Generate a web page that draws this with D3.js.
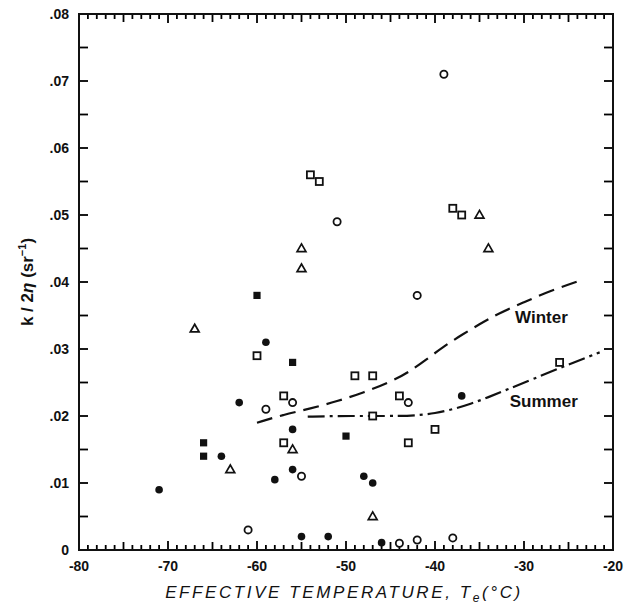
<!DOCTYPE html>
<html><head><meta charset="utf-8">
<script src="https://cdn.jsdelivr.net/npm/d3@7/dist/d3.min.js"></script>
<style>
html,body{margin:0;padding:0;background:#fff;}
svg{display:block;}
text{font-family:"Liberation Sans",Arial,Helvetica,sans-serif;fill:#111;}
</style></head>
<body>
<svg id="chart" width="624" height="608"></svg>
<script>
// ---- data ----
const xTicks = [-80,-70,-60,-50,-40,-30,-20];
const yTicks = [0,0.01,0.02,0.03,0.04,0.05,0.06,0.07,0.08];
const xTickLabels = ["-80","-70","-60","-50","-40","-30","-20"];
const yTickLabels = ["0",".01",".02",".03",".04",".05",".06",".07",".08"];

const openCircles = [[-61,0.003],[-59,0.021],[-56,0.022],[-55,0.011],[-51,0.049],[-44,0.001],[-43,0.022],[-42,0.038],[-42,0.0015],[-39,0.071],[-38,0.0018]];
const openSquares = [[-60,0.029],[-57,0.023],[-57,0.016],[-54,0.056],[-53,0.055],[-49,0.026],[-47,0.026],[-47,0.020],[-44,0.023],[-43,0.016],[-40,0.018],[-38,0.051],[-37,0.050],[-26,0.028]];
const openTriangles = [[-67,0.033],[-63,0.012],[-56,0.015],[-55,0.045],[-55,0.042],[-47,0.005],[-35,0.050],[-34,0.045]];
const filledCircles = [[-71,0.009],[-64,0.014],[-62,0.022],[-59,0.031],[-58,0.0105],[-56,0.018],[-56,0.012],[-55,0.002],[-52,0.002],[-48,0.011],[-47,0.010],[-46,0.0011],[-37,0.023]];
const filledSquares = [[-66,0.016],[-66,0.014],[-60,0.038],[-56,0.028],[-50,0.017]];

const winterCurve = [[-60,0.019],[-57,0.0202],[-54,0.0211],[-51,0.0222],[-48,0.0235],[-45,0.0251],[-43,0.0265],[-41,0.0284],[-39,0.0304],[-37,0.0321],[-35,0.0337],[-33,0.0352],[-30,0.0370],[-27,0.0387],[-23.5,0.0403]];
const summerCurve = [[-54.3,0.0199],[-51,0.0200],[-47,0.0200],[-44,0.0200],[-42,0.0201],[-40,0.0204],[-38,0.0210],[-36,0.0218],[-34,0.0228],[-32,0.0239],[-29,0.0255],[-25,0.0277],[-21.5,0.0295]];

// ---- layout ----
const svg = d3.select("#chart");
const L = 79, R = 613, T = 14, B = 550;
const x = d3.scaleLinear().domain([-80,-20]).range([L,R]);
const y = d3.scaleLinear().domain([0,0.08]).range([B,T]);

// tick marks as filled rects positioned by the scales
const minorX = d3.range(-80,-19,1);
const yMinor = d3.range(0,0.0801,0.005);
const tickLen = d => (Math.abs(d) % 10 === 0) ? 9 : (Math.abs(d) % 5 === 0 ? 8 : 5);
const tg = svg.append("g").attr("fill","#000");
tg.selectAll("rect.bt").data(minorX).join("rect").attr("class","bt")
  .attr("x",d=>x(d)-0.9).attr("y",d=>B-tickLen(d)).attr("width",1.8).attr("height",d=>tickLen(d));
tg.selectAll("rect.tt").data(minorX).join("rect").attr("class","tt")
  .attr("x",d=>x(d)-0.9).attr("y",T).attr("width",1.8).attr("height",d=>tickLen(d));
tg.selectAll("rect.lt").data(yMinor).join("rect").attr("class","lt")
  .attr("x",L).attr("y",d=>y(d)-0.9).attr("width",9).attr("height",1.8);
tg.selectAll("rect.rt").data(yMinor).join("rect").attr("class","rt")
  .attr("x",R-9).attr("y",d=>y(d)-0.9).attr("width",9).attr("height",1.8);

// frame
svg.append("rect").attr("x",L).attr("y",T).attr("width",R-L).attr("height",B-T)
  .attr("fill","none").attr("stroke","#111").attr("stroke-width",2);

// tick labels
svg.append("g").selectAll("text").data(xTicks).join("text")
  .attr("x",d=>x(d)).attr("y",B+21).attr("text-anchor","middle")
  .attr("font-size",14).attr("font-weight","bold").text((d,i)=>xTickLabels[i]);
svg.append("g").selectAll("text").data(yTicks).join("text")
  .attr("x",L-10).attr("y",d=>y(d)+5).attr("text-anchor","end")
  .attr("font-size",14).attr("font-weight","bold").text((d,i)=>yTickLabels[i]);

// curves
const line = d3.line().x(d=>x(d[0])).y(d=>y(d[1])).curve(d3.curveBasis);
svg.append("path").attr("d",line(winterCurve)).attr("fill","none").attr("stroke","#111")
  .attr("stroke-width",2.2).attr("stroke-dasharray","16,8");
svg.append("path").attr("d",line(summerCurve)).attr("fill","none").attr("stroke","#111")
  .attr("stroke-width",2.2).attr("stroke-dasharray","17,5,3,5");

svg.append("text").attr("x",x(-31.0)).attr("y",y(0.0339)).attr("font-size",17).attr("font-weight","bold").text("Winter");
svg.append("text").attr("x",x(-31.6)).attr("y",y(0.0214)).attr("font-size",17).attr("font-weight","bold").text("Summer");

// markers
const pts = svg.append("g");
pts.selectAll(".oc").data(openCircles).join("circle")
  .attr("cx",d=>x(d[0])).attr("cy",d=>y(d[1])).attr("r",3.6)
  .attr("fill","#fff").attr("stroke","#111").attr("stroke-width",1.8);
pts.selectAll(".os").data(openSquares).join("rect")
  .attr("x",d=>x(d[0])-3.5).attr("y",d=>y(d[1])-3.5).attr("width",7).attr("height",7)
  .attr("fill","#fff").attr("stroke","#111").attr("stroke-width",1.8);
const tri = d3.symbol().type(d3.symbolTriangle).size(34);
pts.selectAll(".ot").data(openTriangles).join("path")
  .attr("transform",d=>`translate(${x(d[0])},${y(d[1])+0.5})`).attr("d",tri)
  .attr("fill","#fff").attr("stroke","#111").attr("stroke-width",1.7);
pts.selectAll(".fc").data(filledCircles).join("circle")
  .attr("cx",d=>x(d[0])).attr("cy",d=>y(d[1])).attr("r",3.8).attr("fill","#111");
pts.selectAll(".fs").data(filledSquares).join("rect")
  .attr("x",d=>x(d[0])-3.6).attr("y",d=>y(d[1])-3.6).attr("width",7.2).attr("height",7.2).attr("fill","#111");

// axis titles
const xt = svg.append("text").attr("x",(L+R)/2-2).attr("y",598).attr("text-anchor","middle")
  .attr("font-size",17).attr("font-style","italic").attr("letter-spacing",2.6);
xt.append("tspan").text("EFFECTIVE TEMPERATURE,  T");
xt.append("tspan").attr("font-size",12).attr("dy",4).text("e");
xt.append("tspan").attr("dy",-4).text("(°C)");

const yt = svg.append("text").attr("transform",`translate(33,${(T+B)/2}) rotate(-90)`).attr("text-anchor","middle")
  .attr("font-size",17).attr("font-weight","bold");
yt.append("tspan").text("k / 2");
yt.append("tspan").attr("font-style","italic").text("η");
yt.append("tspan").text(" (sr");
yt.append("tspan").attr("font-size",11).attr("dy",-7).text("−1");
yt.append("tspan").attr("dy",7).text(")");
</script>
</body></html>
